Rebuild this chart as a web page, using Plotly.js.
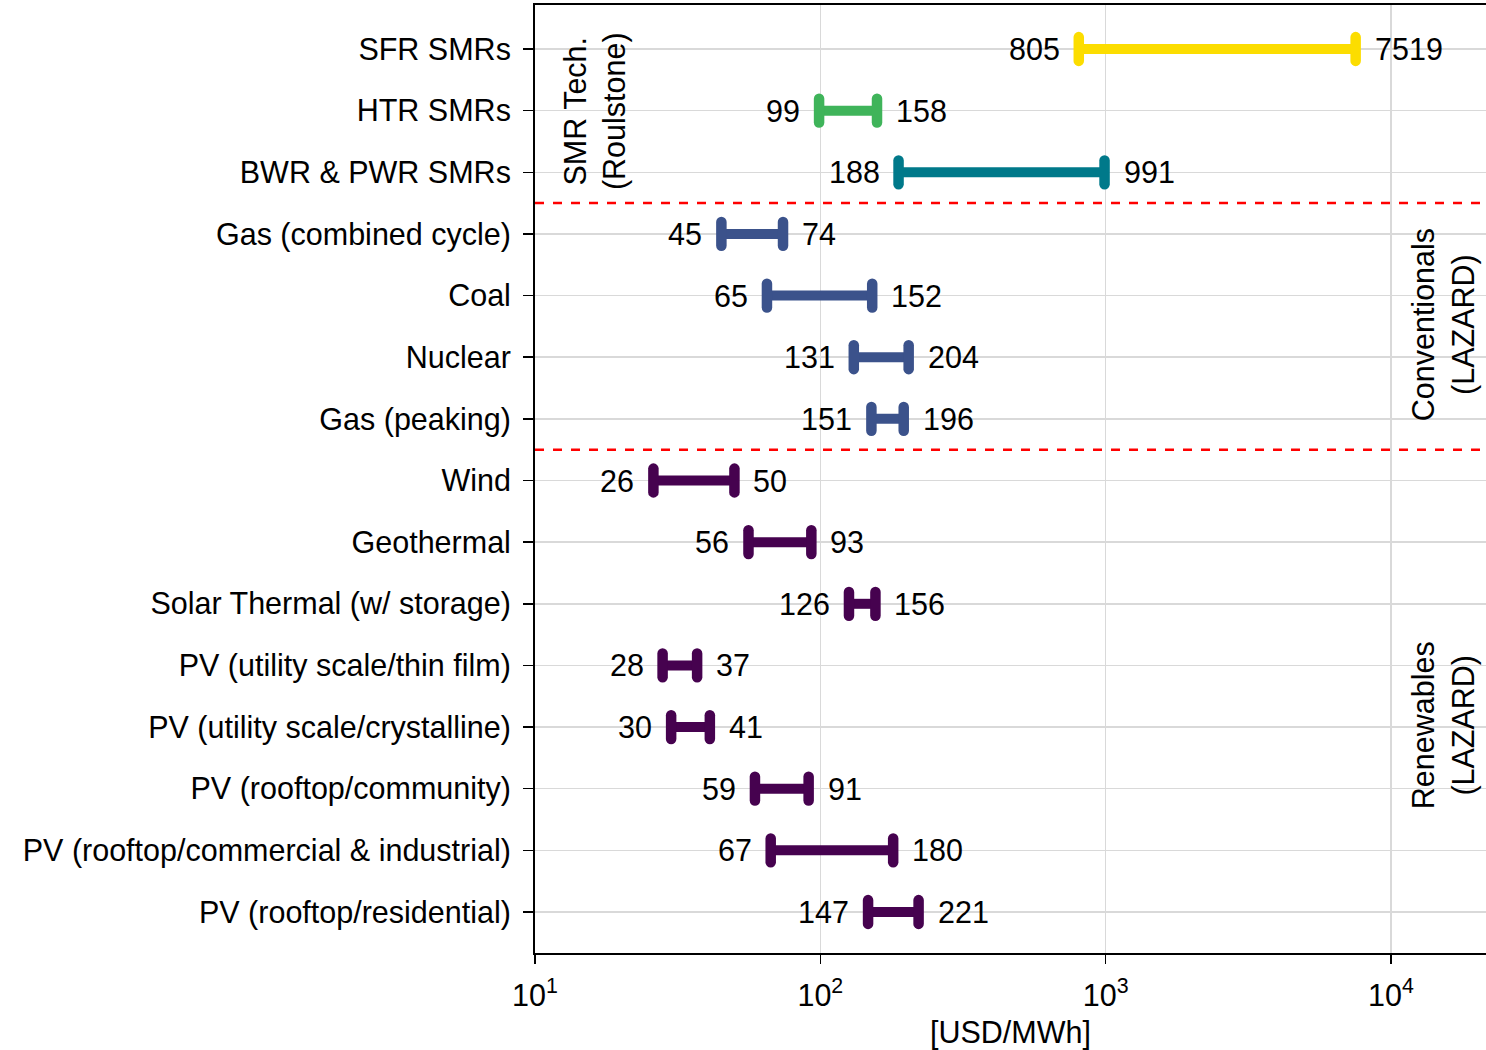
<!DOCTYPE html>
<html>
<head>
<meta charset="utf-8">
<script src="https://cdn.plot.ly/plotly-3.0.1.min.js"></script>
<style>
html,body{margin:0;padding:0;background:#fff;}
#chart{width:1486px;height:1050px;}
.scatterlayer path.point{stroke-linecap:round;}
</style>
</head>
<body>
<div id="chart"></div>
<script>
const categories = ["SFR SMRs","HTR SMRs","BWR & PWR SMRs","Gas (combined cycle)","Coal","Nuclear","Gas (peaking)","Wind","Geothermal","Solar Thermal (w/ storage)","PV (utility scale/thin film)","PV (utility scale/crystalline)","PV (rooftop/community)","PV (rooftop/commercial & industrial)","PV (rooftop/residential)"];
const lowValues  = [805, 99, 188, 45, 65, 131, 151, 26, 56, 126, 28, 30, 59, 67, 147];
const highValues = [7519, 158, 991, 74, 152, 204, 196, 50, 93, 156, 37, 41, 91, 180, 221];
const barColors = ["#FCDD00","#3FB45A","#00798A","#3B528B","#3B528B","#3B528B","#3B528B","#46024F","#46024F","#46024F","#46024F","#46024F","#46024F","#46024F","#46024F"];
const xTickVals = [10, 100, 1000, 10000];
const xTickText = ["10<sup>1</sup>","10<sup>2</sup>","10<sup>3</sup>","10<sup>4</sup>"];
const groupLabels = ["SMR Tech.<br>(Roulstone)","Conventionals<br>(LAZARD)","Renewables<br>(LAZARD)"];
const groupSeparators = [2.5, 6.5];

const FONT = "Liberation Sans, Arial, Helvetica, sans-serif";
const FS = 30.5;

const traces = categories.map((c, i) => ({
  type: "scatter",
  mode: "lines+markers",
  x: [lowValues[i], highValues[i]],
  y: [c, c],
  line: {color: barColors[i], width: 10},
  marker: {symbol: "line-ns-open", size: 17, line: {color: barColors[i], width: 10.5}, color: barColors[i]},
  showlegend: false,
  hoverinfo: "x+y"
}));

const annotations = [];
categories.forEach((c, i) => {
  annotations.push({x: Math.log10(lowValues[i]), y: c, xref: "x", yref: "y", text: String(lowValues[i]),
    showarrow: false, xanchor: "right", yanchor: "middle", xshift: -17, font: {family: FONT, size: FS, color: "#000"}});
  annotations.push({x: Math.log10(highValues[i]), y: c, xref: "x", yref: "y", text: String(highValues[i]),
    showarrow: false, xanchor: "left", yanchor: "middle", xshift: 17, font: {family: FONT, size: FS, color: "#000"}});
});
const groupPos = [[0.063, 0.888], [0.955, 0.6624], [0.955, 0.2405]];
groupLabels.forEach((t, i) => {
  annotations.push({x: groupPos[i][0], y: groupPos[i][1], xref: "paper", yref: "paper", text: t, textangle: -90,
    showarrow: false, xanchor: "center", yanchor: "middle", font: {family: FONT, size: FS, color: "#000"}});
});

const shapes = groupSeparators.map(v => ({
  type: "line", xref: "paper", x0: 0, x1: 1, yref: "y", y0: v, y1: v,
  line: {color: "#FF0000", width: 2.5, dash: "dash"}
}));

const layout = {
  width: 1486, height: 1050,
  margin: {l: 535, r: 0, t: 5, b: 97},
  paper_bgcolor: "#fff", plot_bgcolor: "#fff",
  font: {family: FONT, size: FS, color: "#000"},
  xaxis: {
    type: "log", range: [1, 4.333],
    tickvals: xTickVals, ticktext: xTickText,
    showgrid: true, gridcolor: "#d9d9d9", gridwidth: 1.5,
    showline: true, linecolor: "#000", linewidth: 2, mirror: true,
    ticks: "outside", ticklen: 9, tickwidth: 1.5, tickcolor: "#000",
    ticklabelstandoff: 5,
    zeroline: false,
    tickfont: {family: FONT, size: FS},
    title: {text: "[USD/MWh]", font: {family: FONT, size: FS}, standoff: 14}
  },
  yaxis: {
    type: "category", categoryorder: "array", categoryarray: categories,
    range: [14.665, -0.714],
    showgrid: true, gridcolor: "#d9d9d9", gridwidth: 1.5,
    showline: true, linecolor: "#000", linewidth: 2,
    ticks: "outside", ticklen: 10, tickwidth: 1.5, tickcolor: "#000",
    ticklabelstandoff: 6,
    tickfont: {family: FONT, size: FS},
    zeroline: false
  },
  shapes: shapes,
  annotations: annotations
};

Plotly.newPlot("chart", traces, layout, {displayModeBar: false, staticPlot: true});
</script>
</body>
</html>
